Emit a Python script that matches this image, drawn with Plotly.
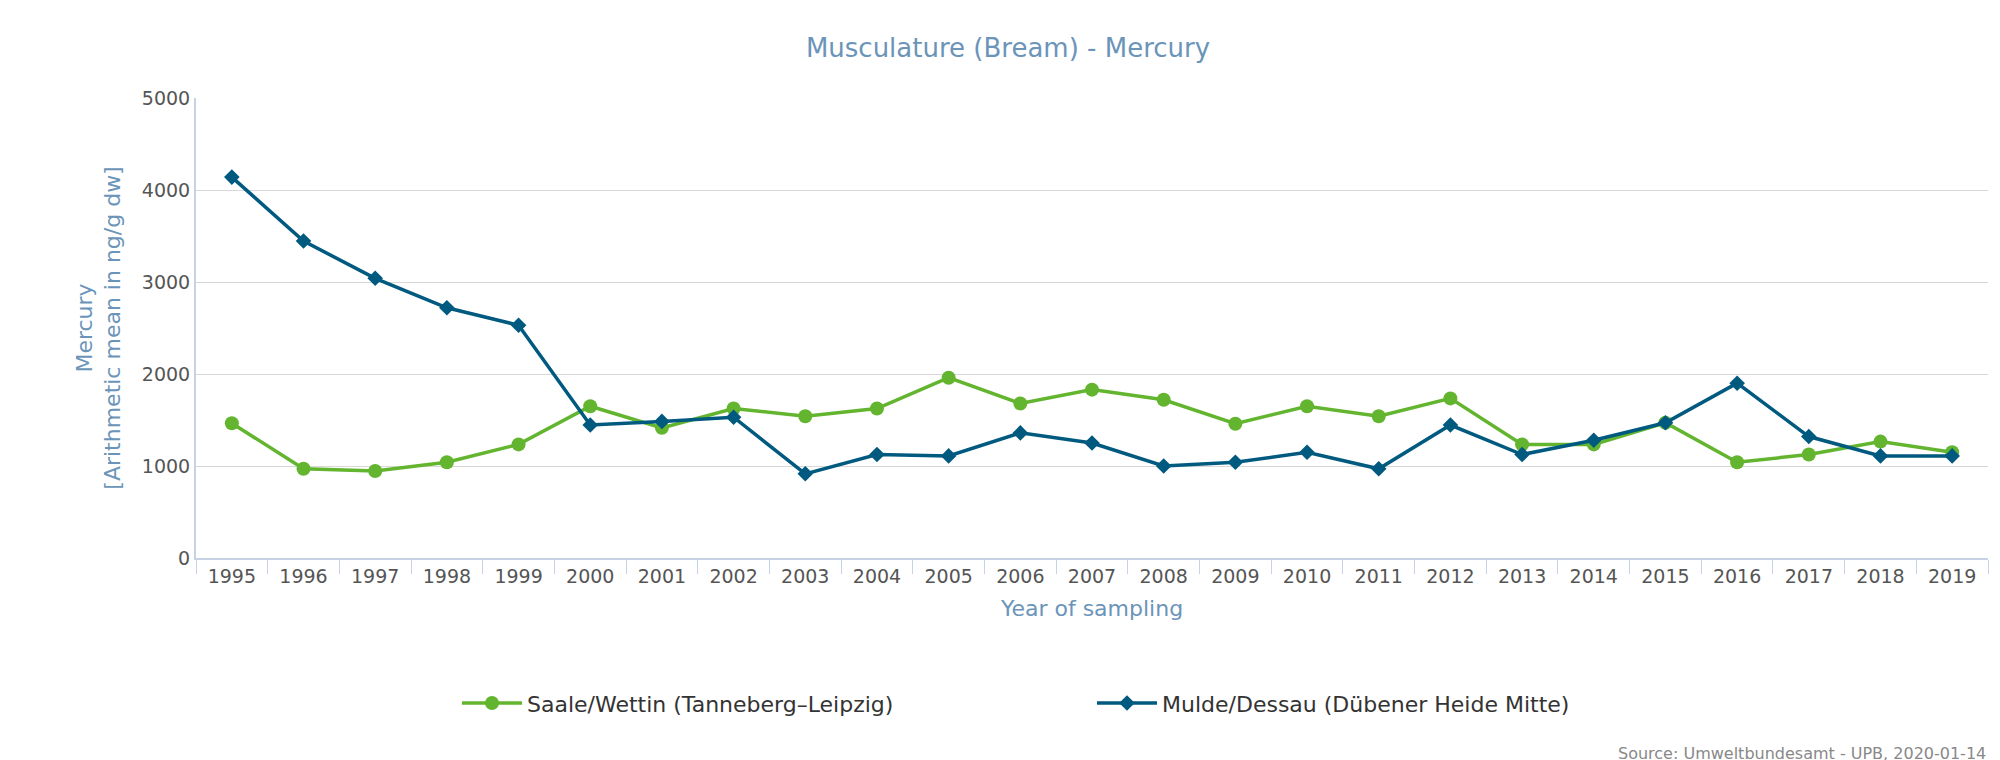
import plotly.graph_objects as go

years = [str(y) for y in range(1995, 2020)]
saale = [1465, 970, 945, 1040, 1235, 1650, 1415, 1625, 1540, 1625, 1960, 1680, 1830, 1720,
         1460, 1650, 1540, 1735, 1235, 1235, 1470, 1040, 1125, 1265, 1150]
mulde = [4140, 3445, 3040, 2720, 2530, 1445, 1485, 1530, 915, 1125, 1110, 1360, 1250, 1000,
         1040, 1150, 970, 1445, 1125, 1280, 1470, 1900, 1320, 1110, 1110]

font = "DejaVu Sans"
fig = go.Figure()
fig.add_trace(go.Scatter(x=years, y=saale, name="Saale/Wettin (Tanneberg–Leipzig)",
                         mode="lines+markers", line=dict(color="#63b52f", width=3.5),
                         marker=dict(size=14, symbol="circle")))
fig.add_trace(go.Scatter(x=years, y=mulde, name="Mulde/Dessau (Dübener Heide Mitte)",
                         mode="lines+markers", line=dict(color="#005a7f", width=3.5),
                         marker=dict(size=12, symbol="diamond")))

fig.update_layout(
    width=2000, height=760, plot_bgcolor="white", paper_bgcolor="white",
    font=dict(family=font, size=19, color="#555"),
    title=dict(text="Musculature (Bream) - Mercury", x=0.5, y=0.96,
               font=dict(size=26, color="#6b94b9")),
    margin=dict(l=188, r=20, t=90, b=210),
    xaxis=dict(title=dict(text="Year of sampling", font=dict(color="#6b94b9", size=22)),
               range=[-0.5, 24.5],
               showline=True, linecolor="#c8d2e6", linewidth=2, ticks="outside",
               tickcolor="#c8d2e6", ticklen=14, tickson="boundaries", showgrid=False),
    yaxis=dict(title=dict(text="Mercury<br>[Arithmetic mean in ng/g dw]",
                          font=dict(color="#6b94b9", size=22)),
               range=[0, 5000], dtick=1000, gridcolor="#d8d8d8", zeroline=False,
               showline=True, linecolor="#c8d2e6", linewidth=2),
    legend=dict(orientation="h", x=0.5, xanchor="center", y=-0.27, yanchor="top",
                font=dict(size=22, color="#333"), itemwidth=60, tracegroupgap=0,
                entrywidth=560),
    showlegend=True,
)
fig.add_annotation(text="Source: Umweltbundesamt - UPB, 2020-01-14", xref="paper", yref="paper",
                   x=1.0, y=-0.4, xanchor="right", yanchor="top", showarrow=False,
                   font=dict(size=16, color="#888"))
fig.write_html("out.html")
